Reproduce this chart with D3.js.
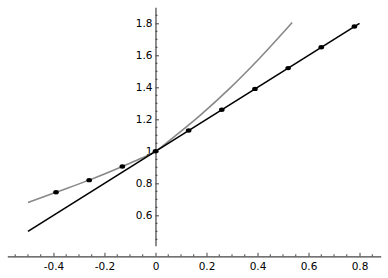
<!DOCTYPE html>
<html><head><meta charset="utf-8">
<script src="https://cdn.jsdelivr.net/npm/d3@7"></script>
<style>
html,body{margin:0;padding:0;background:#fff;}
text{font-family:"DejaVu Sans",sans-serif;font-size:10.5px;fill:#000;}
</style></head>
<body>
<svg id="c" width="388" height="278"></svg>
<script>
// ---- data ----
const curveX = [-0.5, -0.39, -0.26, -0.13, -0.065, 0, 0.08, 0.175, 0.292, 0.41, 0.536];
const curveY = [0.68, 0.744, 0.82, 0.905, 0.95, 1.0, 1.10, 1.225, 1.395, 1.585, 1.805];
const curveDotX = [-0.39, -0.26, -0.13];
const curveDotY = [0.744, 0.82, 0.905];
const lineX = [-0.5, 0.8];
const lineY = [0.5, 1.8];
const lineDotX = [0, 0.13, 0.26, 0.39, 0.52, 0.65, 0.78];
const lineDotY = [1.0, 1.13, 1.26, 1.39, 1.52, 1.65, 1.78];
const xTicks = [-0.4, -0.2, 0, 0.2, 0.4, 0.6, 0.8];
const xTickLabels = ["-0.4", "-0.2", "0", "0.2", "0.4", "0.6", "0.8"];
const yTicks = [0.6, 0.8, 1.0, 1.2, 1.4, 1.6, 1.8];
const yTickLabels = ["0.6", "0.8", "1", "1.2", "1.4", "1.6", "1.8"];
const xDomain = [-0.581, 0.883];
const yDomain = [0.344, 1.9];
const yAxisExtent = [0.41, 1.9];

const svg = d3.select("#c");
const x = d3.scaleLinear().domain(xDomain).range([7.3, 380.7]);
const y = d3.scaleLinear().domain(yDomain).range([256.3, 7.3]);

const axisColor = "#444";

// minor ticks
const xMinor = d3.range(-0.55, 0.86, 0.05).map(v => +v.toFixed(2)).filter(v => !xTicks.some(t => Math.abs(t - v) < 1e-6));
const yMinor = d3.range(0.45, 1.86, 0.05).map(v => +v.toFixed(2)).filter(v => !yTicks.some(t => Math.abs(t - v) < 1e-6));

// x axis
const gx = svg.append("g").attr("transform", `translate(0,${y(yDomain[0])})`);
gx.call(d3.axisBottom(x).tickValues(xTicks).tickFormat((d, i) => xTickLabels[i])
  .tickSizeInner(-3.5).tickSizeOuter(0).tickPadding(6));
gx.selectAll(".domain").attr("stroke", axisColor).attr("stroke-width", 1.2);
gx.selectAll(".tick line").attr("stroke", axisColor);
gx.selectAll("text").attr("font-family", "DejaVu Sans").attr("font-size", 10.5).attr("fill", "#000");
gx.selectAll(".minor").data(xMinor).enter().append("line")
  .attr("x1", d => x(d)).attr("x2", d => x(d)).attr("y1", 0).attr("y2", -2)
  .attr("stroke", axisColor);

// y axis
const yAx = d3.scaleLinear().domain(yAxisExtent).range([y(yAxisExtent[0]), y(yAxisExtent[1])]);
const gy = svg.append("g").attr("transform", `translate(${x(0)},0)`);
gy.call(d3.axisLeft(yAx).tickValues(yTicks).tickFormat((d, i) => yTickLabels[i])
  .tickSizeInner(-3.5).tickSizeOuter(0).tickPadding(3));
gy.selectAll(".domain").attr("stroke", axisColor).attr("stroke-width", 1.2);
gy.selectAll(".tick line").attr("stroke", axisColor);
gy.selectAll("text").attr("font-family", "DejaVu Sans").attr("font-size", 10.5).attr("fill", "#000");
gy.selectAll(".minor").data(yMinor).enter().append("line")
  .attr("y1", d => yAx(d)).attr("y2", d => yAx(d)).attr("x1", 0).attr("x2", 2)
  .attr("stroke", axisColor);

// gray curve
const curvePts = curveX.map((v, i) => [v, curveY[i]]);
svg.append("path").datum(curvePts)
  .attr("d", d3.line().x(d => x(d[0])).y(d => y(d[1])).curve(d3.curveMonotoneX))
  .attr("fill", "none").attr("stroke", "#888").attr("stroke-width", 1.6);

// black line
const linePts = lineX.map((v, i) => [v, lineY[i]]);
svg.append("path").datum(linePts)
  .attr("d", d3.line().x(d => x(d[0])).y(d => y(d[1])))
  .attr("fill", "none").attr("stroke", "#000").attr("stroke-width", 1.6);

// dots
const dots = curveDotX.map((v, i) => [v, curveDotY[i]]).concat(lineDotX.map((v, i) => [v, lineDotY[i]]));
svg.selectAll(".dot").data(dots).enter().append("ellipse")
  .attr("cx", d => x(d[0])).attr("cy", d => y(d[1]))
  .attr("rx", 2.8).attr("ry", 2.2).attr("fill", "#000");
</script>
</body></html>
